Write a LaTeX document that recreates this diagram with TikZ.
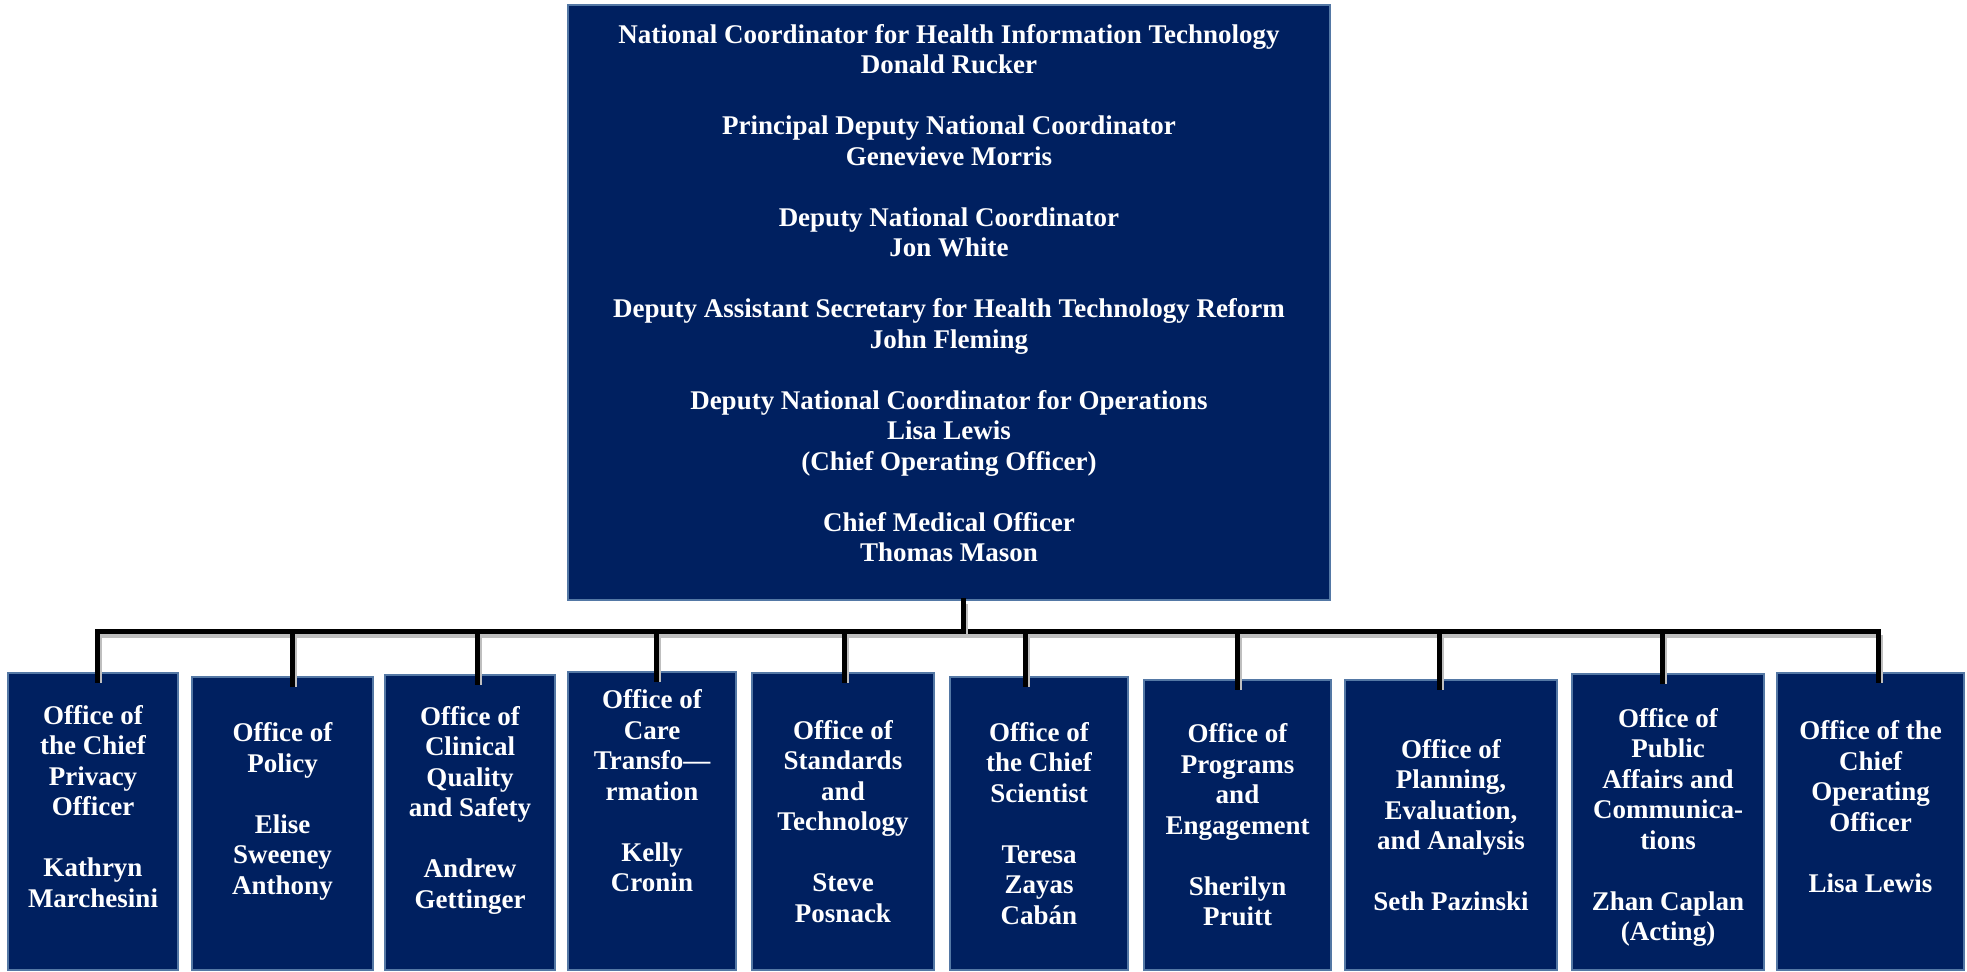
\documentclass[tikz,border=0pt]{standalone}
\usepackage{fontspec}
\setmainfont{Liberation Serif}
\usepackage{tikz}
\usepackage{xcolor}
\definecolor{oncnavy}{RGB}{0,32,96}
\definecolor{oncedge}{RGB}{84,120,165}
\newcommand{\BarY}{632}
\newcommand{\BoxBottom}{970}

\tikzset{
  unitbox/.style={draw=oncedge, line width=0.7pt, fill=oncnavy, text=white,
    font=\fontsize{13.5}{15.25}\selectfont\bfseries, align=center, inner sep=0pt},
  link/.style={line width=2.5pt, black, line cap=rect,
    preaction={draw=black!25, line width=3pt, transform canvas={shift={(0.8pt,-1.6pt)}}}}
}

\begin{document}
\begin{tikzpicture}[x=0.5pt, y=-0.5pt]
\path[use as bounding box] (0,0) rectangle (1967,972);

\node[unitbox, minimum width=762*0.5pt, minimum height=595*0.5pt] (top) at (949,302.5)
  {National Coordinator for Health Information Technology\\
   Donald Rucker\\[\baselineskip]
   Principal Deputy National Coordinator\\
   Genevieve Morris\\[\baselineskip]
   Deputy National Coordinator\\
   Jon White\\[\baselineskip]
   Deputy Assistant Secretary for Health Technology Reform\\
   John Fleming\\[\baselineskip]
   Deputy National Coordinator for Operations\\
   Lisa Lewis\\
   (Chief Operating Officer)\\[\baselineskip]
   Chief Medical Officer\\
   Thomas Mason\\[-5.5pt]~};

% offices: index / left / right / top / stem x / text
\foreach \i/\xl/\xr/\yt/\sx/\txt in {
  1/8/178/673/97/{Office of\\the Chief\\Privacy\\Officer\\[\baselineskip]Kathryn\\Marchesini\\~},
  2/192/373/677/292/{Office of\\Policy\\[\baselineskip]Elise\\Sweeney\\Anthony\\~},
  3/385/555/675/477/{Office of\\Clinical\\Quality\\and Safety\\[\baselineskip]Andrew\\Gettinger\\~},
  4/568/736/672/656/{Office of\\Care\\Transfo---\\rmation\\[\baselineskip]Kelly\\Cronin\\~\\~},
  5/752/934/673/844/{Office of\\Standards\\and\\Technology\\[\baselineskip]Steve\\Posnack},
  6/950/1128/677/1025/{Office of\\the Chief\\Scientist\\[\baselineskip]Teresa\\Zayas\\Cabán},
  7/1144/1331/680/1237/{Office of\\Programs\\and\\Engagement\\[\baselineskip]Sherilyn\\Pruitt},
  8/1345/1557/680/1439/{Office of\\Planning,\\Evaluation,\\and Analysis\\[\baselineskip]Seth Pazinski},
  9/1572/1764/674/1662/{\strut\\[-10.75pt]Office of\\Public\\Affairs and\\Communica-\\tions\\[\baselineskip]Zhan Caplan\\(Acting)},
  10/1777/1964/673/1878/{Office of the\\Chief\\Operating\\Officer\\[\baselineskip]Lisa Lewis\\~}}{
  \node[unitbox, minimum width={(\xr-\xl)*0.5pt}, minimum height={(\BoxBottom-\yt)*0.5pt}]
    (o\i) at ({(\xl+\xr)/2},{(\yt+\BoxBottom)/2}) {\txt};
  \coordinate (s\i) at (\sx,\BarY);
}

\coordinate (hub) at (963,\BarY);
\draw[link] (s1) -- (s10);
\draw[link] (top.south -| hub) -- (hub);
\foreach \i in {1,...,10}
  \draw[link] (s\i) -- ([yshift=-4pt]o\i.north -| s\i);
\end{tikzpicture}
\end{document}
